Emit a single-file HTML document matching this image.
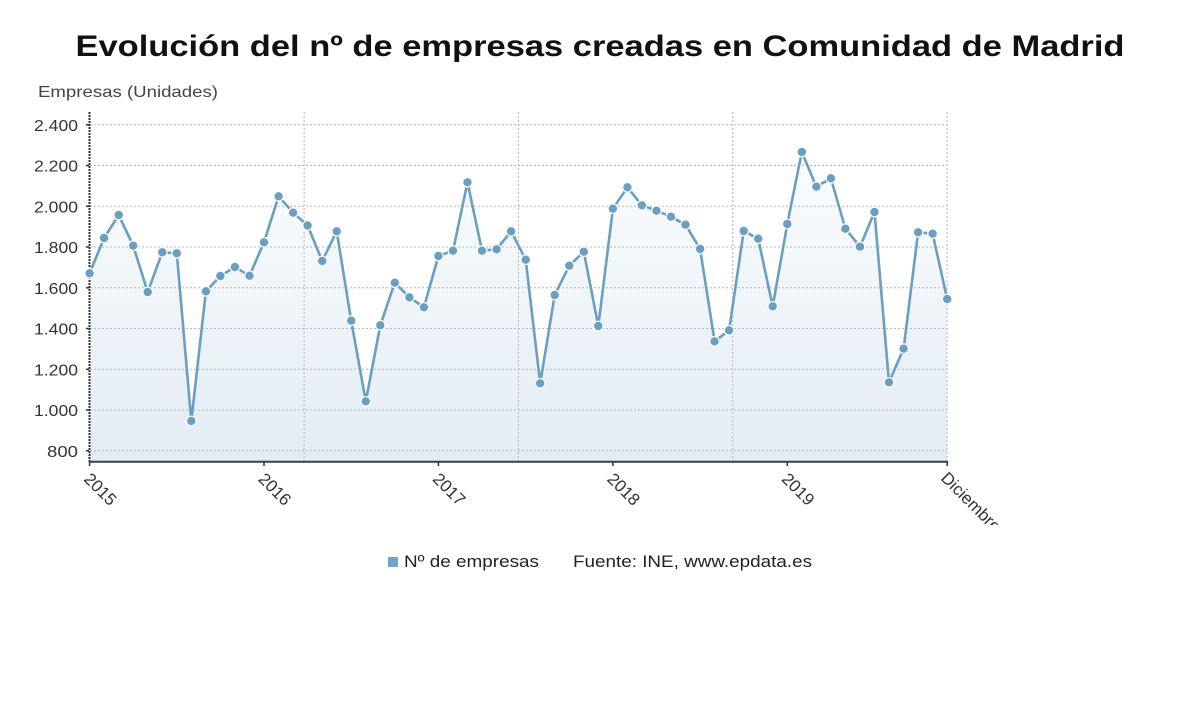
<!DOCTYPE html>
<html><head><meta charset="utf-8"><style>
html,body{margin:0;padding:0;background:#fff;}
body{width:1200px;height:705px;overflow:hidden;}
svg{display:block;}
text{font-family:"Liberation Sans","DejaVu Sans",sans-serif;}
</style></head><body>
<svg width="1200" height="705" viewBox="0 0 1200 705" xmlns="http://www.w3.org/2000/svg">
<defs>
<linearGradient id="ag" x1="0" y1="0" x2="0" y2="1">
<stop offset="0" stop-color="#fbfdfe"/>
<stop offset="1" stop-color="#e2ecf3"/>
</linearGradient>
<clipPath id="cl"><rect x="0" y="0" width="1001" height="525"/></clipPath>
</defs>
<text x="600" y="56" text-anchor="middle" font-size="30" font-weight="bold" fill="#111" textLength="1049" lengthAdjust="spacingAndGlyphs">Evolución del nº de empresas creadas en Comunidad de Madrid</text>
<text x="38" y="97" font-size="16" fill="#444" textLength="180" lengthAdjust="spacingAndGlyphs">Empresas (Unidades)</text>

<!-- area -->
<polygon fill="url(#ag)" points="89.6,461 89.6,273.3 104.1,238 118.7,215 133.2,245.7 147.7,292 162.3,252.3 176.8,253.3 191.3,421 205.9,291.3 220.4,276 234.9,267 249.5,275.7 264,242.3 278.6,196.3 293.1,212.7 307.6,225.5 322.2,261 336.7,231.3 351.2,320.7 365.8,401.3 380.3,325.3 394.8,282.7 409.4,297.3 423.9,307.3 438.4,256 453,250.7 467.5,182.3 482,250.7 496.6,249.3 511.1,231.3 525.7,259.7 540.2,383.3 554.7,295 569.3,265.7 583.8,251.7 598.3,326 612.9,208.7 627.4,187.3 641.9,205.3 656.5,210.7 671,216.7 685.5,224.7 700.1,249 714.6,341.3 729.1,330.3 743.7,231 758.2,238.7 772.7,306.3 787.3,224 801.8,152 816.4,186.7 830.9,178.3 845.4,228.7 860,246.7 874.5,212 889,382.3 903.6,348.7 918.1,232.3 932.6,233.7 947.2,299 947.2,461"/>

<!-- grid -->
<g stroke="#b8b8b8" stroke-width="1" stroke-dasharray="2,2" fill="none">
<line x1="90" y1="124.8" x2="947" y2="124.8"/>
<line x1="90" y1="165.5" x2="947" y2="165.5"/>
<line x1="90" y1="206.3" x2="947" y2="206.3"/>
<line x1="90" y1="247" x2="947" y2="247"/>
<line x1="90" y1="287.8" x2="947" y2="287.8"/>
<line x1="90" y1="328.5" x2="947" y2="328.5"/>
<line x1="90" y1="369.3" x2="947" y2="369.3"/>
<line x1="90" y1="410" x2="947" y2="410"/>
<line x1="90" y1="450.8" x2="947" y2="450.8"/>
<line x1="304.1" y1="112" x2="304.1" y2="461"/>
<line x1="518.4" y1="112" x2="518.4" y2="461"/>
<line x1="732.7" y1="112" x2="732.7" y2="461"/>
<line x1="947" y1="112" x2="947" y2="461"/>
</g>

<!-- y axis -->
<line x1="89.5" y1="112" x2="89.5" y2="462" stroke="#333" stroke-width="2" stroke-dasharray="2,1"/>
<g stroke="#333" stroke-width="1.5">
<line x1="86" y1="124.8" x2="89" y2="124.8"/>
<line x1="86" y1="165.5" x2="89" y2="165.5"/>
<line x1="86" y1="206.3" x2="89" y2="206.3"/>
<line x1="86" y1="247" x2="89" y2="247"/>
<line x1="86" y1="287.8" x2="89" y2="287.8"/>
<line x1="86" y1="328.5" x2="89" y2="328.5"/>
<line x1="86" y1="369.3" x2="89" y2="369.3"/>
<line x1="86" y1="410" x2="89" y2="410"/>
<line x1="86" y1="450.8" x2="89" y2="450.8"/>
</g>
<g font-size="16" fill="#333" text-anchor="end">
<text x="78" y="130.8" textLength="44" lengthAdjust="spacingAndGlyphs">2.400</text>
<text x="78" y="171.5" textLength="44" lengthAdjust="spacingAndGlyphs">2.200</text>
<text x="78" y="212.3" textLength="44" lengthAdjust="spacingAndGlyphs">2.000</text>
<text x="78" y="253" textLength="44" lengthAdjust="spacingAndGlyphs">1.800</text>
<text x="78" y="293.8" textLength="44" lengthAdjust="spacingAndGlyphs">1.600</text>
<text x="78" y="334.5" textLength="44" lengthAdjust="spacingAndGlyphs">1.400</text>
<text x="78" y="375.3" textLength="44" lengthAdjust="spacingAndGlyphs">1.200</text>
<text x="78" y="416" textLength="44" lengthAdjust="spacingAndGlyphs">1.000</text>
<text x="78" y="456.8" textLength="31" lengthAdjust="spacingAndGlyphs">800</text>
</g>

<!-- x axis -->
<line x1="89" y1="461.7" x2="948" y2="461.7" stroke="#3a3f45" stroke-width="2"/>
<g stroke="#333" stroke-width="1.5">
<line x1="89.6" y1="462" x2="89.6" y2="466"/>
<line x1="264" y1="462" x2="264" y2="466"/>
<line x1="438.4" y1="462" x2="438.4" y2="466"/>
<line x1="612.9" y1="462" x2="612.9" y2="466"/>
<line x1="787.3" y1="462" x2="787.3" y2="466"/>
<line x1="947.2" y1="462" x2="947.2" y2="466"/>
</g>
<g font-size="17" fill="#333">
<text transform="translate(83,480) rotate(45)">2015</text>
<text transform="translate(257.4,480) rotate(45)">2016</text>
<text transform="translate(431.8,480) rotate(45)">2017</text>
<text transform="translate(606.3,480) rotate(45)">2018</text>
<text transform="translate(780.7,480) rotate(45)">2019</text>
<g clip-path="url(#cl)"><text transform="translate(940,479) rotate(45)">Diciembre</text></g>
</g>

<!-- line -->
<polyline fill="none" stroke="#6b9fc0" stroke-width="2.6" stroke-linejoin="round" points="89.6,273.3 104.1,238 118.7,215 133.2,245.7 147.7,292 162.3,252.3 176.8,253.3 191.3,421 205.9,291.3 220.4,276 234.9,267 249.5,275.7 264,242.3 278.6,196.3 293.1,212.7 307.6,225.5 322.2,261 336.7,231.3 351.2,320.7 365.8,401.3 380.3,325.3 394.8,282.7 409.4,297.3 423.9,307.3 438.4,256 453,250.7 467.5,182.3 482,250.7 496.6,249.3 511.1,231.3 525.7,259.7 540.2,383.3 554.7,295 569.3,265.7 583.8,251.7 598.3,326 612.9,208.7 627.4,187.3 641.9,205.3 656.5,210.7 671,216.7 685.5,224.7 700.1,249 714.6,341.3 729.1,330.3 743.7,231 758.2,238.7 772.7,306.3 787.3,224 801.8,152 816.4,186.7 830.9,178.3 845.4,228.7 860,246.7 874.5,212 889,382.3 903.6,348.7 918.1,232.3 932.6,233.7 947.2,299"/>

<g fill="#6a9fc2" stroke="#fff" stroke-width="1.2">
<circle cx="89.6" cy="273.3" r="4.8"/><circle cx="104.1" cy="238" r="4.8"/><circle cx="118.7" cy="215" r="4.8"/><circle cx="133.2" cy="245.7" r="4.8"/><circle cx="147.7" cy="292" r="4.8"/><circle cx="162.3" cy="252.3" r="4.8"/><circle cx="176.8" cy="253.3" r="4.8"/><circle cx="191.3" cy="421" r="4.8"/><circle cx="205.9" cy="291.3" r="4.8"/><circle cx="220.4" cy="276" r="4.8"/>
<circle cx="234.9" cy="267" r="4.8"/><circle cx="249.5" cy="275.7" r="4.8"/><circle cx="264" cy="242.3" r="4.8"/><circle cx="278.6" cy="196.3" r="4.8"/><circle cx="293.1" cy="212.7" r="4.8"/><circle cx="307.6" cy="225.5" r="4.8"/><circle cx="322.2" cy="261" r="4.8"/><circle cx="336.7" cy="231.3" r="4.8"/><circle cx="351.2" cy="320.7" r="4.8"/><circle cx="365.8" cy="401.3" r="4.8"/>
<circle cx="380.3" cy="325.3" r="4.8"/><circle cx="394.8" cy="282.7" r="4.8"/><circle cx="409.4" cy="297.3" r="4.8"/><circle cx="423.9" cy="307.3" r="4.8"/><circle cx="438.4" cy="256" r="4.8"/><circle cx="453" cy="250.7" r="4.8"/><circle cx="467.5" cy="182.3" r="4.8"/><circle cx="482" cy="250.7" r="4.8"/><circle cx="496.6" cy="249.3" r="4.8"/><circle cx="511.1" cy="231.3" r="4.8"/>
<circle cx="525.7" cy="259.7" r="4.8"/><circle cx="540.2" cy="383.3" r="4.8"/><circle cx="554.7" cy="295" r="4.8"/><circle cx="569.3" cy="265.7" r="4.8"/><circle cx="583.8" cy="251.7" r="4.8"/><circle cx="598.3" cy="326" r="4.8"/><circle cx="612.9" cy="208.7" r="4.8"/><circle cx="627.4" cy="187.3" r="4.8"/><circle cx="641.9" cy="205.3" r="4.8"/><circle cx="656.5" cy="210.7" r="4.8"/>
<circle cx="671" cy="216.7" r="4.8"/><circle cx="685.5" cy="224.7" r="4.8"/><circle cx="700.1" cy="249" r="4.8"/><circle cx="714.6" cy="341.3" r="4.8"/><circle cx="729.1" cy="330.3" r="4.8"/><circle cx="743.7" cy="231" r="4.8"/><circle cx="758.2" cy="238.7" r="4.8"/><circle cx="772.7" cy="306.3" r="4.8"/><circle cx="787.3" cy="224" r="4.8"/><circle cx="801.8" cy="152" r="4.8"/>
<circle cx="816.4" cy="186.7" r="4.8"/><circle cx="830.9" cy="178.3" r="4.8"/><circle cx="845.4" cy="228.7" r="4.8"/><circle cx="860" cy="246.7" r="4.8"/><circle cx="874.5" cy="212" r="4.8"/><circle cx="889" cy="382.3" r="4.8"/><circle cx="903.6" cy="348.7" r="4.8"/><circle cx="918.1" cy="232.3" r="4.8"/><circle cx="932.6" cy="233.7" r="4.8"/><circle cx="947.2" cy="299" r="4.8"/>
</g>

<!-- legend -->
<rect x="388" y="557" width="10" height="10" fill="#6fa6c7"/>
<text x="404" y="567" font-size="17" fill="#222" textLength="135" lengthAdjust="spacingAndGlyphs">Nº de empresas</text>
<text x="573" y="567" font-size="17" fill="#222" textLength="239" lengthAdjust="spacingAndGlyphs">Fuente: INE, www.epdata.es</text>
</svg>
</body></html>
